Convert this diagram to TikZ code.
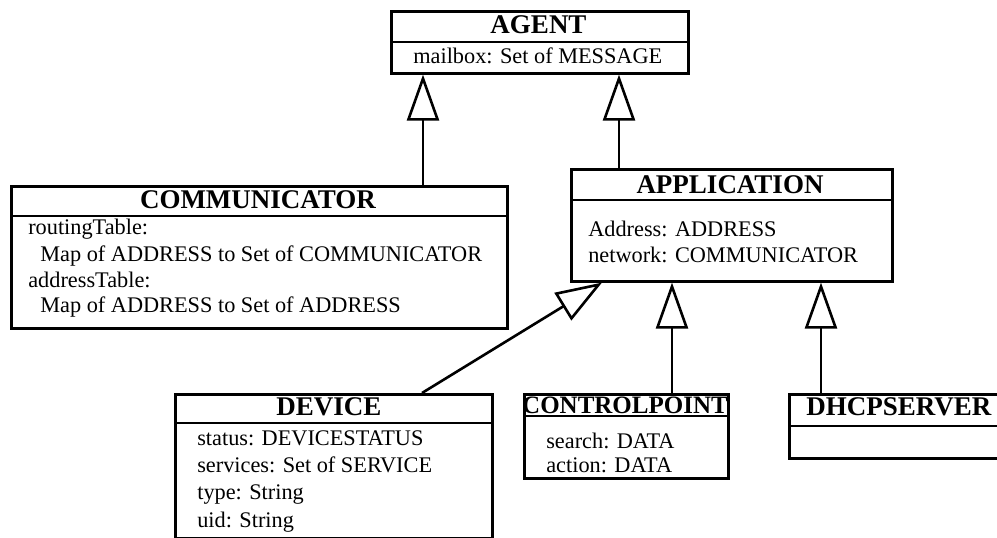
\documentclass[tikz,border=0pt]{standalone}
\usepackage{fontspec}
\setmainfont{Liberation Serif}
\usetikzlibrary{arrows.meta}
\begin{document}
\begin{tikzpicture}[x=1pt,y=-1pt,line width=2.6pt,
  umlbox/.style={draw,rectangle,anchor=north west,inner sep=0pt,line width=2.6pt},
  umltitle/.style={font=\fontsize{27}{30}\selectfont\bfseries,anchor=base,inner sep=0pt},
  attr/.style={font=\fontsize{22.3}{26}\selectfont,anchor=base west,inner sep=0pt},
  inh/.style={-{Triangle[open,length=46pt,width=32pt]},line width=2.6pt,line join=miter}]
\useasboundingbox (0,0) rectangle (997,538);
\clip (0,0) rectangle (997,538);

% AGENT
\node[umlbox,minimum width=297pt,minimum height=62pt] (agent) at (390,10) {};
\draw ([yshift=-32pt]agent.north west) -- ([yshift=-32pt]agent.north east);
\node[umltitle] (agentT) at (538.5,33) {AGENT};
\node[attr] (agentA) at (412,63) {mailbox: Set of MESSAGE};

% COMMUNICATOR
\node[umlbox,minimum width=496pt,minimum height=142pt] (comm) at (10,185) {};
\draw ([yshift=-31pt]comm.north west) -- ([yshift=-31pt]comm.north east);
\node[umltitle] (commT) at (258,208) {COMMUNICATOR};
\node[attr] (commA1) at (27,234) {routingTable:};
\node[attr] (commA2) at (39,261) {Map of ADDRESS to Set of COMMUNICATOR};
\node[attr] (commA3) at (27,287) {addressTable:};
\node[attr] (commA4) at (39,312) {Map of ADDRESS to Set of ADDRESS};

% APPLICATION
\node[umlbox,minimum width=321pt,minimum height=112pt] (app) at (570,168) {};
\draw ([yshift=-32pt]app.north west) -- ([yshift=-32pt]app.north east);
\node[umltitle] (appT) at (730,193) {APPLICATION};
\node[attr] (appA1) at (587,236) {Address: ADDRESS};
\node[attr] (appA2) at (587,262) {network: COMMUNICATOR};

% DEVICE
\node[umlbox,minimum width=317pt,minimum height=144pt] (dev) at (174,393) {};
\draw ([yshift=-30pt]dev.north west) -- ([yshift=-30pt]dev.north east);
\node[umltitle] (devT) at (329,415) {DEVICE};
\node[attr] (devA1) at (196,445) {status: DEVICESTATUS};
\node[attr] (devA2) at (196,472) {services: Set of SERVICE};
\node[attr] (devA3) at (196,499) {type: String};
\node[attr] (devA4) at (196,527) {uid: String};

% CONTROLPOINT
\node[umlbox,minimum width=204pt,minimum height=84pt] (cp) at (523,393) {};
\draw ([yshift=-23pt]cp.north west) -- ([yshift=-23pt]cp.north east);
\node[umltitle,font=\fontsize{25}{28}\selectfont\bfseries] (cpT) at (625,413) {CONTROLPOINT};
\node[attr] (cpA1) at (545,448) {search: DATA};
\node[attr] (cpA2) at (545,472) {action: DATA};

% DHCPSERVER
\node[umlbox,minimum width=260pt,minimum height=64pt] (dh) at (788,393) {};
\draw ([yshift=-33pt]dh.north west) -- ([yshift=-33pt]dh.north east);
\node[umltitle,anchor=base west] (dhT) at (805,415) {DHCPSERVER};

% connectors
\coordinate (x1) at (423,0);
\coordinate (x2) at (619,0);
\coordinate (x3) at (422,0);
\coordinate (x4) at (602,0);
\coordinate (x5) at (672,0);
\coordinate (x6) at (821,0);
\draw[inh] (comm.north -| x1) -- (agent.south -| x1);
\draw[inh] (app.north -| x2) -- (agent.south -| x2);
\draw[inh] (dev.north -| x3) -- (app.south -| x4);
\draw[inh] (cp.north -| x5) -- (app.south -| x5);
\draw[inh] (dh.north -| x6) -- (app.south -| x6);
\end{tikzpicture}
\end{document}
